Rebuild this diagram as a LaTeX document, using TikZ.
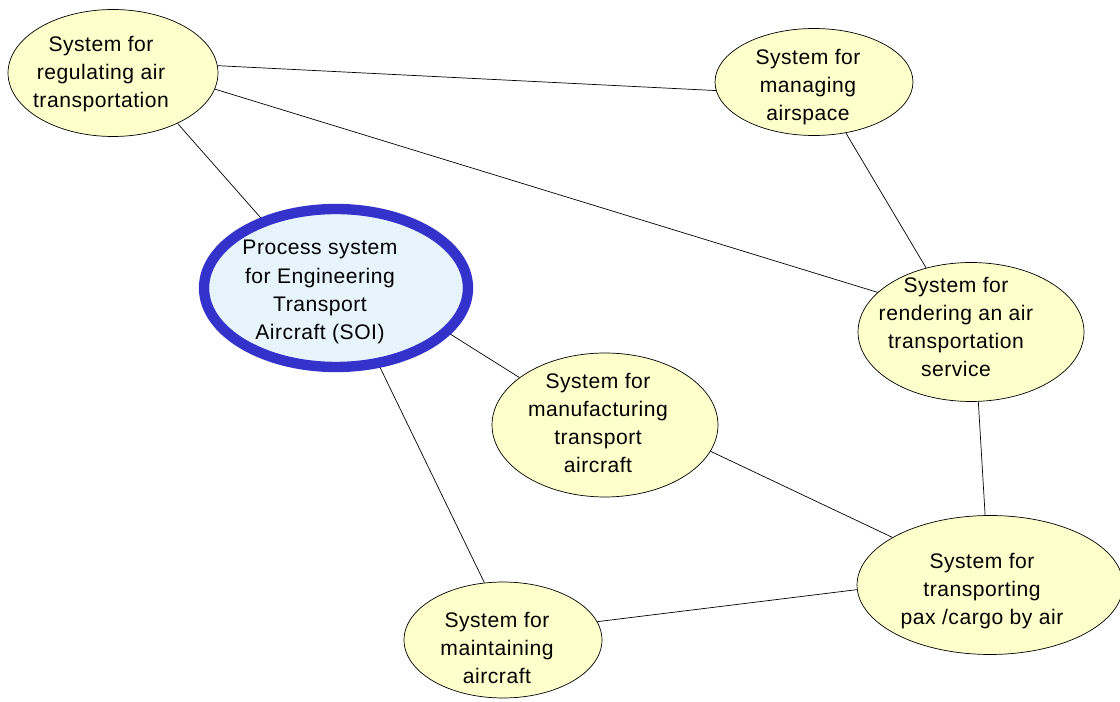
\documentclass[tikz,border=0pt]{standalone}
\usepackage{fontspec}
\setmainfont{Liberation Sans}[LetterSpace=2.5]
\usepackage{xcolor}
\usepackage{tikz}
\usetikzlibrary{shapes.geometric}
\definecolor{sysfill}{HTML}{FFFFCC}
\definecolor{soifill}{HTML}{E8F4FC}
\definecolor{soiline}{HTML}{3333CC}
\tikzset{
	sys/.style={ellipse,draw,thin,fill=sysfill,inner sep=0pt},
	soi/.style={sys,fill=soifill,draw=soiline,line width=5.9pt},
	txt/.style={align=center,inner sep=0pt,font=\fontsize{12}{16}\selectfont},
	link/.style={draw,thin}
}

\begin{document}
\begin{tikzpicture}[x=0.02cm,y=-0.02cm]
	\useasboundingbox (0,0) rectangle (1120,702);
	\node[sys,minimum width=4.2cm,minimum height=2.54cm] (reg) at (113,73) {};
	\node[sys,minimum width=3.96cm,minimum height=2.14cm] (air) at (814,82) {};
	\node[soi,minimum width=5.28cm,minimum height=3.16cm] (soi) at (336,288) {};
	\node[sys,minimum width=4.52cm,minimum height=2.78cm] (ren) at (971,332) {};
	\node[sys,minimum width=4.52cm,minimum height=2.88cm] (man) at (605,425) {};
	\node[sys,minimum width=5.32cm,minimum height=2.78cm] (tra) at (990,585) {};
	\node[sys,minimum width=3.96cm,minimum height=2.32cm] (mnt) at (503,640) {};
	% texts
	\node[txt] (reg-t) at (101,74) {System for\\regulating air\\transportation};
	\node[txt] (air-t) at (808,87) {System for\\managing\\airspace};
	\node[txt] (soi-t) at (320,292) {Process system\\for Engineering\\Transport\\Aircraft (SOI)};
	\node[txt] (ren-t) at (956,327) {System for\\rendering an air\\transportation\\service};
	\node[txt] (man-t) at (598,423) {System for\\manufacturing\\transport\\aircraft};
	\node[txt] (tra-t) at (982,591) {System for\\transporting\\pax /cargo by air};
	\node[txt] (mnt-t) at (497,648) {System for\\maintaining\\aircraft};
	% links
	\draw[link] (reg.4) -- (air.185);
	\draw[link] (reg.-9) -- (ren.157);
	\draw[link] (reg.-38) -- (soi.137);
	\draw[link] (air.-58) -- (ren.125);
	\draw[link] (soi.-22) -- (man.151);
	\draw[link] (soi.-61) -- (mnt.108);
	\draw[link] (man.-14) -- (tra.154);
	\draw[link] (ren.-84) -- (tra.94);
	\draw[link] (mnt.11) -- (tra.182);
\end{tikzpicture}
\end{document}
